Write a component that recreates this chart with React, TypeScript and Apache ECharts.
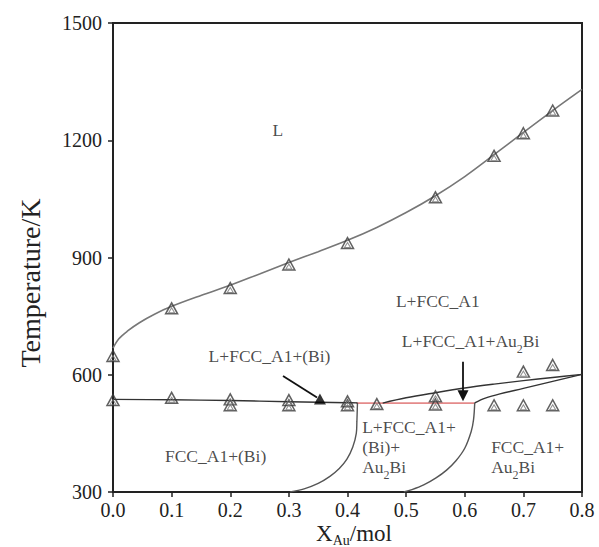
import React, { useEffect, useRef } from "react";
import * as echarts from "echarts";

const FONT = '"Liberation Serif", "Times New Roman", serif';

// axis ticks
const xMin = 0, xMax = 0.8, xStep = 0.1;
const yMin = 300, yMax = 1500, yStep = 300;

// calculated phase boundaries
const liquidusLine = [[0, 668], [0.01, 692], [0.025, 712], [0.045, 733], [0.07, 754], [0.1, 775], [0.15, 803], [0.2, 829], [0.25, 858], [0.3, 887], [0.35, 915], [0.4, 944], [0.45, 977], [0.5, 1015], [0.55, 1058], [0.6, 1107], [0.65, 1163], [0.7, 1220], [0.75, 1276], [0.8, 1330]];
const bismuthLine = [[0, 537], [0.1, 536], [0.2, 534], [0.3, 531], [0.4, 528.5], [0.417, 528]];
const invariantLine = [[0.415, 527.5], [0.617, 527.5]];
const upperAu2BiLine = [[0.46, 527.5], [0.5, 541], [0.55, 554], [0.6, 566], [0.65, 576], [0.7, 585], [0.75, 593], [0.8, 601]];
const lowerAu2BiLine = [[0.617, 528], [0.635, 540], [0.66, 551], [0.7, 565], [0.75, 583], [0.8, 601]];
const leftSolvus = [[0.417, 528], [0.416, 480], [0.415, 450], [0.409, 415], [0.399, 384], [0.386, 360], [0.37, 340], [0.35, 322], [0.326, 308], [0.302, 300]];
const rightSolvus = [[0.617, 528], [0.615, 485], [0.611, 455], [0.6, 412], [0.585, 380], [0.569, 356], [0.551, 336], [0.53, 318], [0.51, 306], [0.496, 300]];

// experimental points
const liquidusPoints = [[0, 648], [0.1, 770], [0.2, 822], [0.3, 882], [0.4, 937], [0.55, 1054], [0.65, 1160], [0.7, 1218], [0.75, 1276]];
const invariantPoints = [[0, 535], [0.1, 541], [0.2, 537], [0.2, 522], [0.3, 535], [0.3, 522], [0.4, 532], [0.4, 522], [0.45, 525], [0.55, 545], [0.55, 524], [0.65, 522], [0.7, 522], [0.75, 522], [0.7, 608], [0.75, 625]];
const filledPoint = [[0.353, 538]];

// arrows
const arrowBi = [[0.29, 597], [0.348, 542]];
const arrowAu2Bi = [[0.597, 633], [0.597, 546]];

// region labels
const centeredLabels = [
  { pos: [0.281, 1224], text: "{n|L}" },
  { pos: [0.554, 786], text: "{n|L+FCC_A1}" },
  { pos: [0.61, 684], text: "{n|L+FCC_A1+Au}{s|2}{n|Bi}" },
  { pos: [0.267, 645], text: "{n|L+FCC_A1+(Bi)}" },
  { pos: [0.175, 390], text: "{n|FCC_A1+(Bi)}" },
];
const leftLabels = [
  { pos: [0.425, 412], text: "{n|L+FCC_A1+}\n{n|(Bi)+}\n{n|Au}{s|2}{n|Bi}" },
  { pos: [0.645, 386], text: "{n|FCC_A1+}\n{n|Au}{s|2}{n|Bi}" },
];

const rich = {
  n: { fontSize: 17.5, fontFamily: FONT, color: "#1a1a1a", lineHeight: 20, verticalAlign: "top" },
  s: { fontSize: 12, fontFamily: FONT, color: "#1a1a1a", lineHeight: 12, padding: [11, 0, 0, 0], verticalAlign: "top" },
};

function lineSeries(data: number[][], color: string, width: number) {
  return {
    type: "line",
    data,
    showSymbol: false,
    smooth: 0.35,
    silent: true,
    lineStyle: { color, width },
    z: 2,
  };
}

export default function App() {
  const ref = useRef<HTMLDivElement>(null);
  useEffect(() => {
    if (!ref.current) return;
    const chart = echarts.init(ref.current, undefined, { renderer: "svg" });
    const allPoints = liquidusPoints.concat(invariantPoints);
    const option: any = {
      animation: false,
      backgroundColor: "#ffffff",
      grid: {
        left: 113, right: 17, top: 23, bottom: 55,
        show: true, borderColor: "#222", borderWidth: 2,
        containLabel: false, outerBoundsMode: "none",
      },
      xAxis: {
        type: "value", min: xMin, max: xMax, interval: xStep,
        axisLine: { show: true, lineStyle: { color: "#222", width: 2 } },
        axisTick: { show: true, length: 5, inside: false, lineStyle: { color: "#222", width: 1.5 } },
        axisLabel: { formatter: (v: number) => v.toFixed(1), fontSize: 20, fontFamily: FONT, color: "#222", margin: 8 },
        splitLine: { show: false },
      },
      yAxis: {
        type: "value", min: yMin, max: yMax, interval: yStep,
        axisLine: { show: true, lineStyle: { color: "#222", width: 2 } },
        axisTick: { show: true, length: 5, inside: false, lineStyle: { color: "#222", width: 1.5 } },
        axisLabel: { formatter: (v: number) => String(v), fontSize: 20, fontFamily: FONT, color: "#222", margin: 11 },
        splitLine: { show: false },
      },
      series: [
        lineSeries(liquidusLine, "#777", 1.6),
        { ...lineSeries(invariantLine, "#e48a8a", 1.6), smooth: false, z: 2 },
        { ...lineSeries(bismuthLine, "#333", 1.4), z: 3 },
        { ...lineSeries(upperAu2BiLine, "#333", 1.4), z: 3 },
        lineSeries(lowerAu2BiLine, "#333", 1.4),
        lineSeries(leftSolvus, "#555", 1.4),
        lineSeries(rightSolvus, "#555", 1.4),
        {
          type: "scatter", data: allPoints, symbol: "triangle", symbolSize: [12, 11],
          itemStyle: { color: "rgba(255,255,255,0)", borderColor: "#3a3a3a", borderWidth: 1.5 }, silent: true, z: 4,
        },
        {
          type: "scatter", data: allPoints, symbol: "triangle", symbolSize: [6, 5], symbolOffset: [0, 2],
          itemStyle: { color: "rgba(255,255,255,0)", borderColor: "#777", borderWidth: 1 }, silent: true, z: 4,
        },
        {
          type: "scatter", data: filledPoint, symbol: "triangle", symbolSize: [12, 11],
          itemStyle: { color: "#000" }, silent: true, z: 5,
        },
        {
          type: "lines", coordinateSystem: "cartesian2d", silent: true, z: 5,
          symbol: ["none", "none"],
          lineStyle: { color: "#111", width: 1.8, opacity: 1, curveness: 0 },
          data: [{ coords: arrowBi }],
        },
        {
          type: "lines", coordinateSystem: "cartesian2d", silent: true, z: 5,
          symbol: ["none", "triangle"], symbolSize: 11,
          lineStyle: { color: "#111", width: 1.8, opacity: 1, curveness: 0 },
          data: [{ coords: arrowAu2Bi }],
        },
        {
          type: "scatter", symbolSize: 0, silent: true, z: 6,
          data: centeredLabels.map((l) => ({
            value: l.pos,
            label: { show: true, position: "inside", formatter: l.text, rich },
          })),
        },
        {
          type: "scatter", symbolSize: 0, silent: true, z: 6,
          data: leftLabels.map((l) => ({
            value: l.pos,
            label: { show: true, position: "right", distance: 0, align: "left", formatter: l.text, rich },
          })),
        },
      ],
      graphic: [
        {
          type: "text", x: 30, y: 283, rotation: Math.PI / 2,
          style: { text: "Temperature/K", fontSize: 28, fontFamily: FONT, fill: "#222", align: "center", verticalAlign: "middle" },
        },
        {
          type: "text", x: 354, y: 534,
          style: {
            text: "{a|X}{b|Au}{a|/mol}", align: "center", verticalAlign: "middle",
            rich: {
              a: { fontSize: 23, fontFamily: FONT, fill: "#222", lineHeight: 24, verticalAlign: "top" },
              b: { fontSize: 14, fontFamily: FONT, fill: "#222", lineHeight: 14, padding: [11, 0, 0, 0], verticalAlign: "top" },
            },
          },
        },
      ],
    };
    chart.setOption(option);
    return () => chart.dispose();
  }, []);
  return <div ref={ref} style={{ position: "fixed", left: 0, top: 0, width: 599, height: 547 }} />;
}
